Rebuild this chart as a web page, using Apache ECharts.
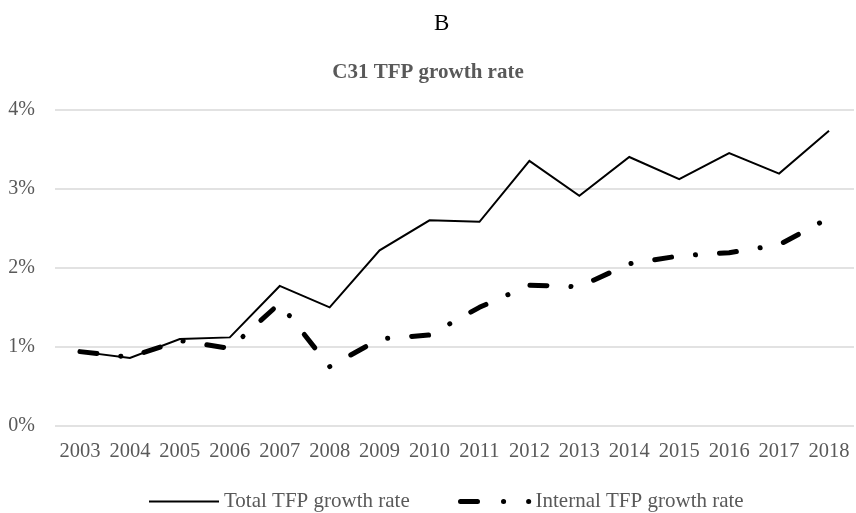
<!DOCTYPE html>
<html>
<head>
<meta charset="utf-8">
<script src="https://cdn.jsdelivr.net/npm/echarts@6/dist/echarts.min.js"></script>
<style>
html,body{margin:0;padding:0;background:#fff;}
#chart{width:856px;height:513px;}
</style>
</head>
<body>
<div id="chart"></div>
<script>
var years = ['2003','2004','2005','2006','2007','2008','2009','2010','2011','2012','2013','2014','2015','2016','2017','2018'];
var totalTFP = [0.94, 0.86, 1.10, 1.12, 1.77, 1.50, 2.22, 2.60, 2.58, 3.35, 2.91, 3.40, 3.12, 3.45, 3.19, 3.73];
var internalTFP = [0.94, 0.87, 1.08, 0.98, 1.55, 0.75, 1.10, 1.15, 1.50, 1.78, 1.76, 2.05, 2.15, 2.19, 2.29, 2.63];
var yTicks = [0, 1, 2, 3, 4];
var seriesNames = ['Total TFP growth rate', 'Internal TFP growth rate'];

var FONT = "'Liberation Serif', 'Times New Roman', serif";
var GRAY = '#595959';

var chart = echarts.init(document.getElementById('chart'), null, {renderer: 'canvas'});
chart.setOption({
  backgroundColor: '#ffffff',
  animation: false,
  title: [
    {text: 'B', left: 429, top: 7, textStyle: {fontFamily: FONT, fontSize: 23, fontWeight: 'normal', color: '#000'}},
    {text: 'C31 TFP growth rate', left: 'center', top: 57, textStyle: {fontFamily: FONT, fontSize: 21, fontWeight: 'bold', color: GRAY}}
  ],
  legend: [
    {
      data: [seriesNames[0]], left: 143, top: 486, itemWidth: 70, itemHeight: 14,
      itemStyle: {color: 'rgba(0,0,0,0)', borderWidth: 0},
      textStyle: {fontFamily: FONT, fontSize: 21, color: GRAY}
    },
    {
      data: [seriesNames[1]], left: 453, top: 486, itemWidth: 70, itemHeight: 14,
      itemStyle: {color: 'rgba(0,0,0,0)', borderWidth: 0},
      lineStyle: {type: [17, 26, 0.1, 25, 0.1, 100], width: 5, cap: 'round', color: '#000'},
      textStyle: {fontFamily: FONT, fontSize: 21, color: GRAY}
    }
  ],
  grid: {left: 55, right: 2, top: 109.5, bottom: 87, containLabel: false},
  xAxis: {
    type: 'category',
    data: years,
    boundaryGap: true,
    axisLine: {show: false},
    axisTick: {show: false},
    axisLabel: {fontFamily: FONT, fontSize: 20.5, color: GRAY, margin: 15, interval: 0}
  },
  yAxis: {
    type: 'value',
    min: yTicks[0], max: yTicks[yTicks.length - 1], interval: 1,
    axisLine: {show: false},
    axisTick: {show: false},
    splitLine: {lineStyle: {color: '#d9d9d9', width: 1.5}},
    axisLabel: {fontFamily: FONT, fontSize: 20, color: GRAY, margin: 20, formatter: '{value}%'}
  },
  series: [
    {
      name: seriesNames[0], type: 'line', data: totalTFP, symbol: 'none',
      lineStyle: {color: '#000', width: 2, join: 'miter'},
      itemStyle: {color: '#000'}
    },
    {
      name: seriesNames[1], type: 'line', data: internalTFP, symbol: 'none',
      lineStyle: {color: '#000', width: 5, type: [17, 24, 0.1, 24], cap: 'round', join: 'round'},
      itemStyle: {color: '#000'}
    }
  ]
});
</script>
</body>
</html>
